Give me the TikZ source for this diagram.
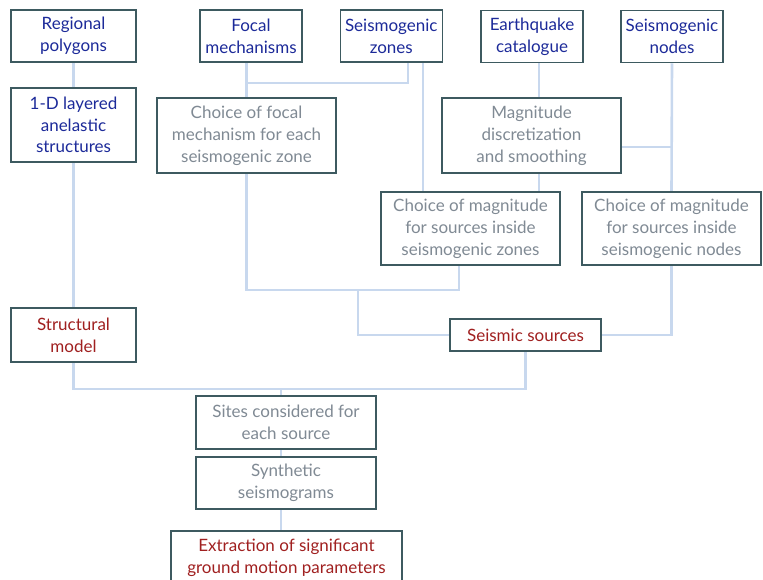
\documentclass[tikz,border=0pt]{standalone}
\usepackage{fontspec}
\setmainfont{Lato}
\usetikzlibrary{backgrounds,calc}
\definecolor{bluetxt}{HTML}{1C2A99}
\definecolor{greytxt}{HTML}{808A94}
\definecolor{redtxt}{HTML}{A02020}
\definecolor{border}{HTML}{3D5A60}
\definecolor{conn}{HTML}{C8D8EE}
\tikzset{
  box/.style={draw=border, line width=1.5pt, fill=white, align=center, inner sep=1pt,
    font=\fontsize{17}{21.8}\selectfont},
  bluebox/.style={box, text=bluetxt},
  greybox/.style={box, text=greytxt},
  redbox/.style={box, text=redtxt},
  link/.style={draw=conn, line width=2.6pt},
}
\begin{document}
\begin{tikzpicture}[x=1pt,y=-1pt]
\useasboundingbox (0,0) rectangle (763,579);
% top row
\node[bluebox, minimum width=125pt, minimum height=52pt] (rp) at (73.5,36) {Regional\\polygons};
\node[bluebox, minimum width=102pt, minimum height=52pt] (fm) at (251,36) {Focal\\mechanisms};
\node[bluebox, minimum width=102pt, minimum height=52pt] (sz) at (391.3,36) {Seismogenic\\zones};
\node[bluebox, minimum width=102pt, minimum height=52pt] (ec) at (532,36.5) {Earthquake\\catalogue};
\node[bluebox, minimum width=102pt, minimum height=52pt] (sn) at (672,36.5) {Seismogenic\\nodes};
% second row
\node[bluebox, minimum width=125pt, minimum height=74pt] (ld) at (73.5,125) {1-D layered\\anelastic\\structures};
\node[greybox, minimum width=179pt, minimum height=75pt] (cf) at (246.5,135.5) {Choice of focal\\mechanism for each\\seismogenic zone};
\node[greybox, minimum width=179pt, minimum height=75pt] (md) at (531.5,135.5) {Magnitude\\discretization\\and smoothing};
% third row
\node[greybox, minimum width=179pt, minimum height=73pt] (cz) at (470.5,228.5) {Choice of magnitude\\for sources inside\\seismogenic zones};
\node[greybox, minimum width=179pt, minimum height=73pt] (cn) at (671.5,228.5) {Choice of magnitude\\for sources inside\\seismogenic nodes};
% fourth row
\node[redbox, minimum width=125pt, minimum height=54pt] (sm) at (73.5,335) {Structural\\model};
\node[redbox, minimum width=151pt, minimum height=32pt] (ss) at (525.5,335) {Seismic sources};
% bottom
\node[greybox, minimum width=180pt, minimum height=53pt] (sc) at (286,422.5) {Sites considered for\\each source};
\node[greybox, minimum width=180pt, minimum height=52pt] (sy) at (286,483) {Synthetic\\seismograms};
\node[redbox, minimum width=231pt, minimum height=53pt] (ex) at (286.5,557.5) {Extraction of significant\\ground motion parameters};
% junction coordinates
\coordinate (jb) at (281,389);
\coordinate (jf) at (408,83);
\coordinate (xz) at (423,0);
\coordinate (xe) at (539,0);
\coordinate (ym) at (0,147);
\coordinate (jz) at (459,290);
\coordinate (js) at (358,290);
\begin{scope}[on background layer]
\draw[link] (rp.south) -- (ld.north);
\draw[link] (ld.south) -- (sm.north);
\draw[link] (sm.south) |- (jb) -| (ss.south);
\draw[link] (jb) -- (jb |- sc.north);
\draw[link] (jb |- sc.south) -- (jb |- sy.north);
\draw[link] (jb |- sy.south) -- (jb |- ex.north);
\draw[link] (cf.north |- fm.south) -- (cf.north);
\draw[link] (cf.north |- jf) -- (jf) -- (jf |- sz.south);
\draw[link] (xz |- sz.south) -- (xz |- cz.north);
\draw[link] (xe |- ec.south) -- (xe |- md.north);
\draw[link] (xe |- md.south) -- (xe |- cz.north);
\draw[link] (sn.south) -- (cn.north);
\draw[link] (md.east |- ym) -- (sn.south |- ym);
\draw[link] (cf.south) |- (jz) -- (jz |- cz.south);
\draw[link] (js) |- (ss.west);
\draw[link] (cn.south) |- (ss.east);
\end{scope}
\end{tikzpicture}
\end{document}
